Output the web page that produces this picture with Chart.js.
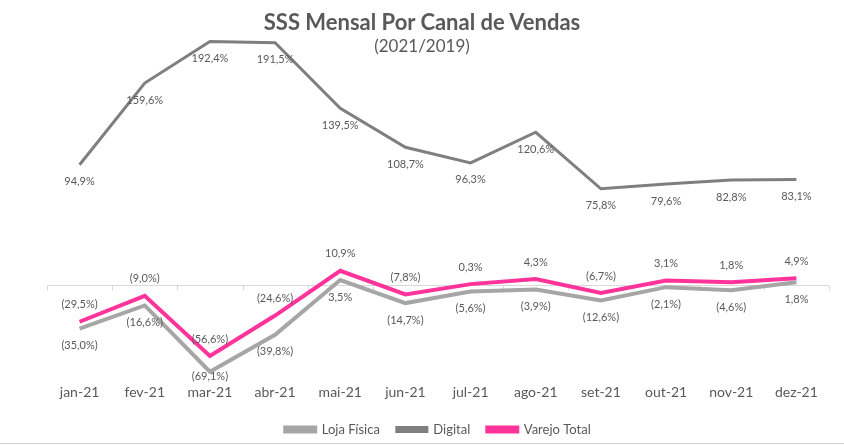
<!DOCTYPE html>
<html>
<head>
<meta charset="utf-8">
<script src="https://cdn.jsdelivr.net/npm/chart.js@4"></script>
<style>
  html, body { margin: 0; padding: 0; background: #fff; }
  #wrap { position: relative; width: 844px; height: 446px; overflow: hidden; }
  #title { position: absolute; left: 0; width: 844px; top: 8px; text-align: center;
           font-family: Lato, "Open Sans", sans-serif; font-weight: bold; font-size: 22px; color: #595959; line-height: 28px; }
  #subtitle { position: absolute; left: 0; width: 844px; top: 35px; text-align: center;
           font-family: Lato, "Open Sans", sans-serif; font-size: 17px; color: #595959; line-height: 22px; }
  #bottomline { position: absolute; left: 0; width: 844px; top: 443px; height: 1px; background: #d0d0d0; }
  canvas { position: absolute; left: 0; top: 0; }
</style>
</head>
<body>
<div id="wrap">
  <canvas id="c" width="844" height="446"></canvas>
  <div id="title">SSS Mensal Por Canal de Vendas</div>
  <div id="subtitle">(2021/2019)</div>
  <div id="bottomline"></div>
</div>
<script>
const categories = ['jan-21','fev-21','mar-21','abr-21','mai-21','jun-21','jul-21','ago-21','set-21','out-21','nov-21','dez-21'];
const lojaFisica = [-35.0, -16.6, -69.1, -39.8, 3.5, -14.7, -5.6, -3.9, -12.6, -2.1, -4.6, 1.8];
const digital = [94.9, 159.6, 192.4, 191.5, 139.5, 108.7, 96.3, 120.6, 75.8, 79.6, 82.8, 83.1];
const varejoTotal = [-29.5, -9.0, -56.6, -24.6, 10.9, -7.8, 0.3, 4.3, -6.7, 3.1, 1.8, 4.9];

const FONT = 'Lato, "Open Sans", sans-serif';
const TXT = '#595959';

function fmt(v) {
  const s = Math.abs(v).toFixed(1).replace('.', ',') + '%';
  return v < 0 ? '(' + s + ')' : s;
}

const zeroLine = {
  id: 'zeroLine',
  beforeDatasetsDraw(chart) {
    const { ctx, chartArea, scales } = chart;
    const y = Math.round(scales.y.getPixelForValue(0)) + 0.5;
    ctx.save();
    ctx.strokeStyle = '#d9d9d9';
    ctx.lineWidth = 1;
    ctx.beginPath();
    ctx.moveTo(chartArea.left, y);
    ctx.lineTo(chartArea.right, y);
    const n = categories.length;
    const half = (scales.x.getPixelForValue(1) - scales.x.getPixelForValue(0)) / 2;
    for (let i = 0; i <= n; i++) {
      const x = Math.round(i < n ? scales.x.getPixelForValue(i) - half : scales.x.getPixelForValue(n - 1) + half) + 0.5;
      ctx.moveTo(x, y);
      ctx.lineTo(x, y + 5);
    }
    ctx.stroke();
    ctx.restore();
  }
};

const labels = {
  id: 'pointLabels',
  afterDatasetsDraw(chart) {
    const { ctx, chartArea } = chart;
    ctx.save();
    ctx.font = '11px ' + FONT;
    ctx.fillStyle = TXT;
    ctx.textAlign = 'center';
    ctx.textBaseline = 'middle';
    chart.data.datasets.forEach((ds, di) => {
      const meta = chart.getDatasetMeta(di);
      const pos = ds.labelPos;
      meta.data.forEach((pt, i) => {
        let y = pos === 'above' ? pt.y - 17 : pt.y + 17;
        if (y > chartArea.bottom - 3) y = chartArea.bottom - 3;
        ctx.fillText(fmt(ds.data[i]), pt.x, y);
      });
    });
    ctx.restore();
  }
};

new Chart(document.getElementById('c'), {
  type: 'line',
  data: {
    labels: categories,
    datasets: [
      { label: 'Loja Física', data: lojaFisica, borderColor: '#a6a6a6', backgroundColor: '#a6a6a6', borderWidth: 4, pointRadius: 0, tension: 0, labelPos: 'below', order: 1 },
      { label: 'Digital', data: digital, borderColor: '#7f7f7f', backgroundColor: '#7f7f7f', borderWidth: 3, pointRadius: 0, tension: 0, labelPos: 'below', order: 1 },
      { label: 'Varejo Total', data: varejoTotal, borderColor: '#ff3399', backgroundColor: '#ff3399', borderWidth: 4, pointRadius: 0, tension: 0, labelPos: 'above', order: 0 }
    ]
  },
  options: {
    responsive: false,
    animation: false,
    layout: { padding: { left: 47, right: 15, top: 32, bottom: 0 } },
    scales: {
      x: {
        offset: true,
        grid: { display: false, drawTicks: false },
        border: { display: false },
        ticks: { color: TXT, font: { family: FONT, size: 14 }, padding: 5 }
      },
      y: {
        display: false,
        min: -75,
        max: 200
      }
    },
    plugins: {
      legend: {
        position: 'bottom',
        labels: {
          color: TXT,
          font: { family: FONT, size: 13 },
          boxWidth: 30,
          boxHeight: 4,
          padding: 17,
          sort: (a, b) => a.datasetIndex - b.datasetIndex
        }
      },
      tooltip: { enabled: false },
      title: { display: false }
    }
  },
  plugins: [zeroLine, labels]
});
</script>
</body>
</html>
